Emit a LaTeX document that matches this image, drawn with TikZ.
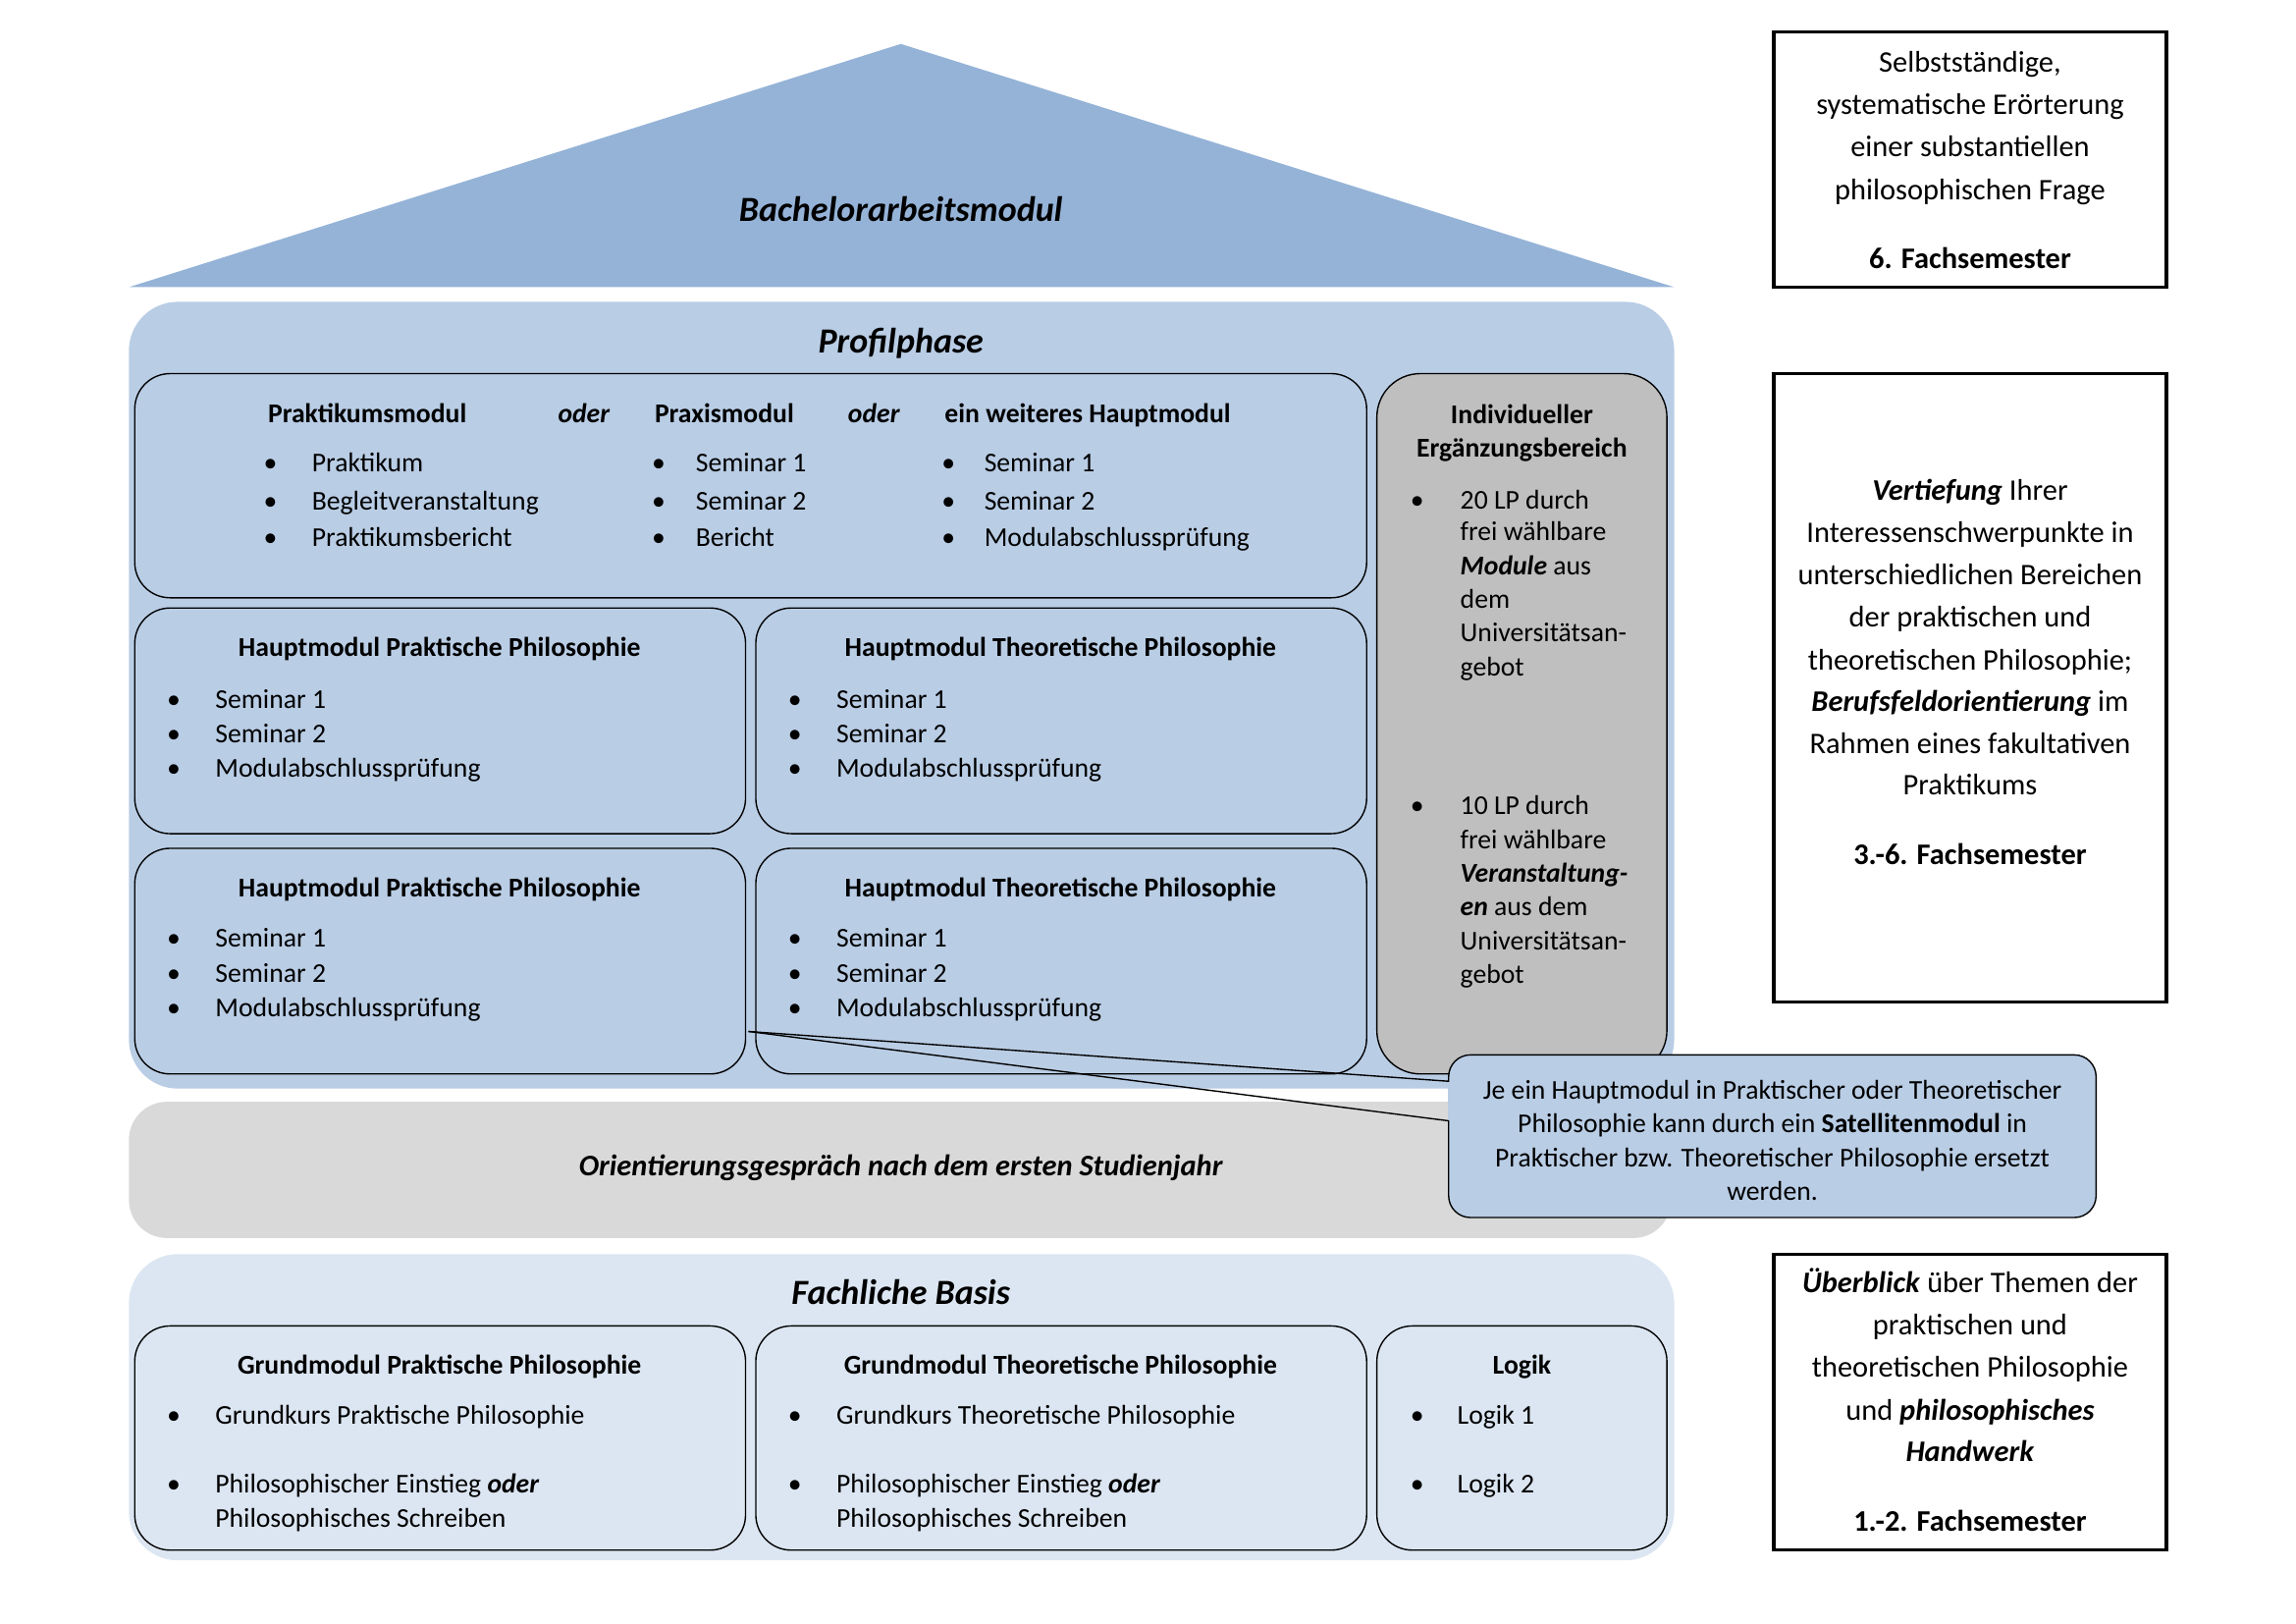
\documentclass[tikz,border=0pt]{standalone}
\usepackage{fontspec}
\setmainfont{Carlito}
\usetikzlibrary{fit}
\definecolor{triblue}{HTML}{95B3D7}
\definecolor{midblue}{HTML}{B9CDE5}
\definecolor{lightblue}{HTML}{DCE6F2}
\definecolor{grayA}{HTML}{BFBFBF}
\definecolor{grayB}{HTML}{D9D9D9}
\newcommand\bitem[5]{\node[lt] (#1b) at (#2,#4) {\textbullet}; \node[lt] (#1) at (#3,#4) {#5};}
\begin{document}
\begin{tikzpicture}[x=0.18947mm,y=-0.18947mm,
  every node/.style={inner sep=0pt, outer sep=0pt},
  tshift/.style={yshift=-1.5pt},
  lt/.style={tshift, anchor=mid west, font=\fontsize{10}{12}\selectfont},
  lb/.style={tshift, anchor=mid west, font=\fontsize{10}{12}\selectfont\bfseries},
  lbi/.style={tshift, anchor=mid west, font=\fontsize{10}{12}\selectfont\bfseries\itshape},
  cb/.style={tshift, anchor=mid, font=\fontsize{10}{12}\selectfont\bfseries},
  ct/.style={tshift, anchor=mid, font=\fontsize{10}{12}\selectfont},
  rt/.style={tshift, anchor=mid, font=\fontsize{11}{13}\selectfont},
  rb/.style={tshift, anchor=mid, font=\fontsize{11}{13}\selectfont\bfseries},
  ttl/.style={tshift, anchor=mid, font=\fontsize{13}{15}\selectfont\bfseries\itshape},
  mbox/.style={draw=black, line width=0.5pt, rounded corners=13pt},
  sidebox/.style={draw=black, line width=1.2pt},
]
\useasboundingbox (0,0) rectangle (1567.5,1108.4);
% roof
\fill[triblue] (88,196) -- (615,30) -- (1143,196) -- cycle;
\node[ttl] (bam) at (615,144) {Bachelorarbeitsmodul};
% panels
\fill[midblue, rounded corners=18pt] (88,206) rectangle (1143,743);
\fill[grayB, rounded corners=14pt] (88,752) rectangle (1141,845);
\fill[lightblue, rounded corners=18pt] (88,856) rectangle (1143,1065);
\node[ttl] (pp) at (615,234) {Profilphase};
\node[ttl] (fb) at (615,883) {Fachliche Basis};
\node[tshift, anchor=mid, font=\fontsize{11}{13}\selectfont\bfseries\itshape] (og) at (615,795) {Orientierungsgespräch nach dem ersten Studienjahr};
% top box
\node[mbox, fill=midblue, fit={(92,255)(933,408)}] (top) {};
\node[lb] (h1) at (183,281) {Praktikumsmodul};
\node[lbi] (o1) at (381,281) {oder};
\node[lb] (h2) at (447,281) {Praxismodul};
\node[lbi] (o2) at (579,281) {oder};
\node[lb] (h3) at (645,281) {ein weiteres Hauptmodul};
\bitem{a1}{180}{213}{315}{Praktikum}
\bitem{a2}{180}{213}{341}{Begleitveranstaltung}
\bitem{a3}{180}{213}{366}{Praktikumsbericht}
\bitem{b1}{445}{475}{315}{Seminar 1}
\bitem{b2}{445}{475}{341}{Seminar 2}
\bitem{b3}{445}{475}{366}{Bericht}
\bitem{c1}{643}{672}{315}{Seminar 1}
\bitem{c2}{643}{672}{341}{Seminar 2}
\bitem{c3}{643}{672}{366}{Modulabschlussprüfung}
% Hauptmodule
\node[mbox, fill=midblue, fit={(92,415)(509,569)}] (hpp1) {};
\node[mbox, fill=midblue, fit={(516,415)(933,569)}] (htp1) {};
\node[mbox, fill=midblue, fit={(92,579)(509,733)}] (hpp2) {};
\node[mbox, fill=midblue, fit={(516,579)(933,733)}] (htp2) {};
\node[cb] (hpp1t) at (300,441) {Hauptmodul Praktische Philosophie};
\node[cb] (htp1t) at (724,441) {Hauptmodul Theoretische Philosophie};
\node[cb] (hpp2t) at (300,605) {Hauptmodul Praktische Philosophie};
\node[cb] (htp2t) at (724,605) {Hauptmodul Theoretische Philosophie};
\bitem{d1}{114}{147}{476}{Seminar 1}
\bitem{d2}{114}{147}{500}{Seminar 2}
\bitem{d3}{114}{147}{523}{Modulabschlussprüfung}
\bitem{e1}{538}{571}{476}{Seminar 1}
\bitem{e2}{538}{571}{500}{Seminar 2}
\bitem{e3}{538}{571}{523}{Modulabschlussprüfung}
\bitem{f1}{114}{147}{639}{Seminar 1}
\bitem{f2}{114}{147}{663}{Seminar 2}
\bitem{f3}{114}{147}{687}{Modulabschlussprüfung}
\bitem{g1}{538}{571}{639}{Seminar 1}
\bitem{g2}{538}{571}{663}{Seminar 2}
\bitem{g3}{538}{571}{687}{Modulabschlussprüfung}
% Individueller Ergaenzungsbereich
\node[mbox, fill=grayA, rounded corners=16pt, fit={(940,255)(1138,733)}] (ieb) {};
\node[cb] (ieb1) at (1039,282) {Individueller};
\node[cb] (ieb2) at (1039,305) {Ergänzungsbereich};
\node[lt] (iba) at (963,340) {\textbullet};
\node[lt] (i1) at (997,340) {20 LP durch};
\node[lt] (i2) at (997,362) {frei wählbare};
\node[lt] (i3) at (997,385) {\textbf{\textit{Module}} aus};
\node[lt] (i4) at (997,408) {dem};
\node[lt] (i5) at (997,431) {Universitätsan-};
\node[lt] (i6) at (997,454) {gebot};
\node[lt] (ibb) at (963,549) {\textbullet};
\node[lt] (j1) at (997,549) {10 LP durch};
\node[lt] (j2) at (997,572) {frei wählbare};
\node[lt] (j3) at (997,595) {\textbf{\textit{Veranstaltung-}}};
\node[lt] (j4) at (997,618) {\textbf{\textit{en}} aus dem};
\node[lt] (j5) at (997,641) {Universitätsan-};
\node[lt] (j6) at (997,664) {gebot};
% Fachliche Basis boxes
\node[mbox, fill=lightblue, fit={(92,905)(509,1058)}] (gpp) {};
\node[mbox, fill=lightblue, fit={(516,905)(933,1058)}] (gtp) {};
\node[mbox, fill=lightblue, fit={(940,905)(1138,1058)}] (lg) {};
\node[cb] (gppt) at (300,931) {Grundmodul Praktische Philosophie};
\node[cb] (gtpt) at (724,931) {Grundmodul Theoretische Philosophie};
\node[cb] (lgt) at (1039,931) {Logik};
\bitem{k1}{114}{147}{965}{Grundkurs Praktische Philosophie}
\bitem{k2}{114}{147}{1012}{Philosophischer Einstieg \textbf{\textit{oder}}}
\node[lt] (k3) at (147,1035) {Philosophisches Schreiben};
\bitem{m1}{538}{571}{965}{Grundkurs Theoretische Philosophie}
\bitem{m2}{538}{571}{1012}{Philosophischer Einstieg \textbf{\textit{oder}}}
\node[lt] (m3) at (571,1035) {Philosophisches Schreiben};
\bitem{n1}{963}{995}{965}{Logik 1}
\bitem{n2}{963}{995}{1012}{Logik 2}
% callout
\node[mbox, fill=midblue, rounded corners=8pt, fit={(989,720)(1431,831)}] (callout) {};
\fill[midblue] (988.6,738.6) rectangle (990.5,764.4);
\coordinate (ptip) at (511,704);
\coordinate (catt1) at (989,738);
\coordinate (catt2) at (989,765);
\draw[line width=0.5pt] (ptip) -- (catt1);
\draw[line width=0.5pt] (ptip) -- (catt2);
\node[ct] (cl1) at (1210,743) {Je ein Hauptmodul in Praktischer oder Theoretischer};
\node[ct] (cl2) at (1210,766) {Philosophie kann durch ein \textbf{Satellitenmodul} in};
\node[ct] (cl3) at (1210,789) {Praktischer bzw. Theoretischer Philosophie ersetzt};
\node[ct] (cl4) at (1210,812) {werden.};
% side boxes
\node[sidebox, fit={(1211,22)(1479,196)}] (sA) {};
\node[rt] (sA1) at (1345,42) {Selbstständige,};
\node[rt] (sA2) at (1345,71) {systematische Erörterung};
\node[rt] (sA3) at (1345,100) {einer substantiellen};
\node[rt] (sA4) at (1345,129) {philosophischen Frage};
\node[rb] (sA5) at (1345,176) {6. Fachsemester};
\node[sidebox, fit={(1211,255)(1479,684)}] (sB) {};
\node[rt] (sB1) at (1345,334) {\textbf{\textit{Vertiefung}} Ihrer};
\node[rt] (sB2) at (1345,363) {Interessenschwerpunkte in};
\node[rt] (sB3) at (1345,392) {unterschiedlichen Bereichen};
\node[rt] (sB4) at (1345,421) {der praktischen und};
\node[rt] (sB5) at (1345,450) {theoretischen Philosophie;};
\node[rt] (sB6) at (1345,478) {\textbf{\textit{Berufsfeldorientierung}} im};
\node[rt] (sB7) at (1345,507) {Rahmen eines fakultativen};
\node[rt] (sB8) at (1345,535) {Praktikums};
\node[rb] (sB9) at (1345,583) {3.-6. Fachsemester};
\node[sidebox, fit={(1211,856)(1479,1058)}] (sC) {};
\node[rt] (sC1) at (1345,875) {\textbf{\textit{Überblick}} über Themen der};
\node[rt] (sC2) at (1345,904) {praktischen und};
\node[rt] (sC3) at (1345,933) {theoretischen Philosophie};
\node[rt] (sC4) at (1345,962) {und \textbf{\textit{philosophisches}}};
\node[rt] (sC5) at (1345,990) {\textbf{\textit{Handwerk}}};
\node[rb] (sC6) at (1345,1038) {1.-2. Fachsemester};
\end{tikzpicture}
\end{document}
